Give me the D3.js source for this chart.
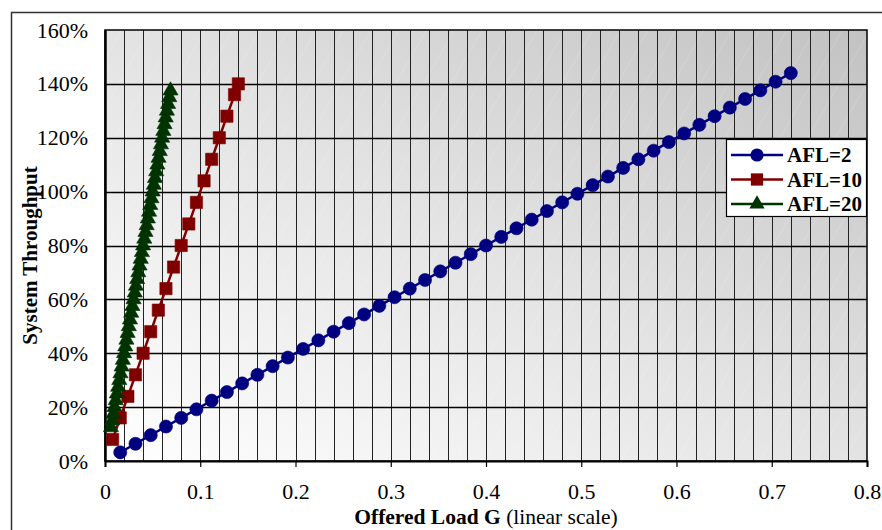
<!DOCTYPE html>
<html><head><meta charset="utf-8">
<script src="https://cdn.jsdelivr.net/npm/d3@7"></script>
<style>body{margin:0;background:#fff}svg{display:block}</style>
</head><body>
<svg id="c" width="882" height="530"></svg>
<script>
// ---- data ----
const seriesNames = ["AFL=2", "AFL=10", "AFL=20"];
const afl2G = [0.016,0.032,0.048,0.064,0.08,0.096,0.112,0.128,0.144,0.16,0.176,0.192,0.208,0.224,0.24,0.256,0.272,0.288,0.304,0.32,0.336,0.352,0.368,0.384,0.4,0.416,0.432,0.448,0.464,0.48,0.496,0.512,0.528,0.544,0.56,0.576,0.592,0.608,0.624,0.64,0.656,0.672,0.688,0.704,0.72];
const afl2T = [0.032,0.064,0.096,0.128,0.16,0.192,0.224,0.256,0.288,0.32,0.352,0.384,0.416,0.448,0.48,0.512,0.544,0.576,0.608,0.64,0.672,0.704,0.736,0.768,0.8,0.832,0.864,0.896,0.928,0.96,0.992,1.024,1.056,1.088,1.12,1.152,1.184,1.216,1.248,1.28,1.312,1.344,1.376,1.408,1.44];
const afl10G = [0.008,0.016,0.024,0.032,0.04,0.048,0.056,0.064,0.072,0.08,0.088,0.096,0.104,0.112,0.12,0.128,0.136,0.14];
const afl10T = [0.08,0.16,0.24,0.32,0.40,0.48,0.56,0.64,0.72,0.80,0.88,0.96,1.04,1.12,1.20,1.28,1.36,1.40];
const afl20G = [0.00625,0.0075,0.00875,0.01,0.01125,0.0125,0.01375,0.015,0.01625,0.0175,0.01875,0.02,0.02125,0.0225,0.02375,0.025,0.02625,0.0275,0.02875,0.03,0.03125,0.0325,0.03375,0.035,0.03625,0.0375,0.03875,0.04,0.04125,0.0425,0.04375,0.045,0.04625,0.0475,0.04875,0.05,0.05125,0.0525,0.05375,0.055,0.05625,0.0575,0.05875,0.06,0.06125,0.0625,0.06375,0.065,0.06625,0.0675,0.06875];
const afl20T = [0.125,0.15,0.175,0.2,0.225,0.25,0.275,0.3,0.325,0.35,0.375,0.4,0.425,0.45,0.475,0.5,0.525,0.55,0.575,0.6,0.625,0.65,0.675,0.7,0.725,0.75,0.775,0.8,0.825,0.85,0.875,0.9,0.925,0.95,0.975,1.0,1.025,1.05,1.075,1.1,1.125,1.15,1.175,1.2,1.225,1.25,1.275,1.3,1.325,1.35,1.375];
const xTicks = [0,0.1,0.2,0.3,0.4,0.5,0.6,0.7,0.8];
const yTicks = [0,0.2,0.4,0.6,0.8,1.0,1.2,1.4,1.6];
const xTitleBold = "Offered Load G";
const xTitleNormal = " (linear scale)";
const yTitle = "System Throughput";

// ---- layout ----
const svg = d3.select("#c");
const L = 105, T = 30, R = 867, B = 461;
const x = d3.scaleLinear().domain([0, 0.8]).range([L, R]);
const y = d3.scaleLinear().domain([0, 1.6]).range([B, T]);
const font = "'Liberation Serif','Times New Roman',serif";

// outer frame
svg.append("rect").attr("x", 11.5).attr("y", 12.5).attr("width", 900).attr("height", 600)
  .attr("fill", "#fff").attr("stroke", "#333").attr("stroke-width", 1.5);

// gradient background
const defs = svg.append("defs");
const g = defs.append("linearGradient").attr("id", "bg")
  .attr("x1", 0).attr("y1", 1).attr("x2", 1).attr("y2", 0);
g.append("stop").attr("offset", "0").attr("stop-color", "#ffffff");
g.append("stop").attr("offset", "0.5").attr("stop-color", "#e3e3e3");
g.append("stop").attr("offset", "1").attr("stop-color", "#c2c2c2");
const pat = defs.append("pattern").attr("id", "stripes").attr("patternUnits", "userSpaceOnUse")
  .attr("width", 24).attr("height", 24).attr("patternTransform", "rotate(30)");
pat.append("line").attr("x1", 0).attr("y1", 0).attr("x2", 0).attr("y2", 24)
  .attr("stroke", "#ffffff").attr("stroke-opacity", 0.18).attr("stroke-width", 1.5);

svg.append("rect").attr("x", L).attr("y", T).attr("width", R - L).attr("height", B - T).attr("fill", "url(#bg)");
svg.append("rect").attr("x", L).attr("y", T).attr("width", R - L).attr("height", B - T).attr("fill", "url(#stripes)");

// vertical grid every 0.02
const vGrid = d3.range(1, 40).map(i => i * 0.02);
svg.append("g").selectAll("line").data(vGrid).join("line")
  .attr("x1", d => Math.round(x(d)) + 0.5).attr("x2", d => Math.round(x(d)) + 0.5)
  .attr("y1", T).attr("y2", B).attr("stroke", "#222").attr("stroke-width", 1);
// horizontal grid
svg.append("g").selectAll("line").data(yTicks.slice(1, -1)).join("line")
  .attr("x1", L).attr("x2", R).attr("y1", d => Math.round(y(d)) + 0.5).attr("y2", d => Math.round(y(d)) + 0.5)
  .attr("stroke", "#000").attr("stroke-width", 1.3);

// plot border
svg.append("rect").attr("x", L).attr("y", T).attr("width", R - L).attr("height", B - T)
  .attr("fill", "none").attr("stroke", "#000").attr("stroke-width", 1.5);

// axes
const xAxis = svg.append("g").attr("transform", `translate(0,${B})`)
  .call(d3.axisBottom(x).tickValues(xTicks).tickFormat(d => d === 0 ? "0" : d3.format(".1f")(d)).tickSize(6).tickPadding(16));
xAxis.select(".domain").attr("stroke", "#000").attr("stroke-width", 2);
xAxis.selectAll(".tick line").attr("stroke", "#000").attr("stroke-width", 1.2);
xAxis.selectAll("text").attr("font-family", font).attr("font-size", 22).attr("fill", "#000");

const yAxis = svg.append("g").attr("transform", `translate(${L},0)`)
  .call(d3.axisLeft(y).tickValues(yTicks).tickFormat(d3.format(".0%")).tickSize(0).tickPadding(17));
yAxis.select(".domain").attr("stroke", "#000").attr("stroke-width", 2.5);
yAxis.selectAll("text").attr("font-family", font).attr("font-size", 22).attr("fill", "#000");

// axis titles
const xt = svg.append("text").attr("x", 486).attr("y", 524).attr("text-anchor", "middle")
  .attr("font-family", font).attr("font-size", 21.5).attr("fill", "#000");
xt.append("tspan").attr("font-weight", "bold").text(xTitleBold);
xt.append("tspan").text(xTitleNormal);
svg.append("text").attr("transform", `translate(37,${(T + B) / 2 + 10}) rotate(-90)`).attr("text-anchor", "middle")
  .attr("font-family", font).attr("font-size", 21).attr("font-weight", "bold").attr("fill", "#000").text(yTitle);

// series
const series = [
  { name: seriesNames[0], G: afl2G, Tp: afl2T, color: "#000080", sym: d3.symbolCircle, size: 135 },
  { name: seriesNames[1], G: afl10G, Tp: afl10T, color: "#800000", sym: d3.symbolSquare, size: 150 },
  { name: seriesNames[2], G: afl20G, Tp: afl20T, color: "#003300", sym: d3.symbolTriangle, size: 100 }
];
const line = d3.line().x(d => x(d[0])).y(d => y(d[1]));
series.forEach(s => {
  const pts = s.G.map((g, i) => [g, s.Tp[i]]);
  svg.append("path").datum(pts).attr("d", line).attr("fill", "none")
    .attr("stroke", s.color).attr("stroke-width", 2.5);
  svg.append("g").selectAll("path").data(pts).join("path")
    .attr("transform", d => `translate(${x(d[0])},${y(d[1])})`)
    .attr("d", d3.symbol().type(s.sym).size(s.size))
    .attr("fill", s.color).attr("stroke", s.color).attr("stroke-width", 0.6);
});

// legend
const lg = svg.append("g");
lg.append("rect").attr("x", 726.5).attr("y", 139.5).attr("width", 140).attr("height", 77)
  .attr("fill", "#fff").attr("stroke", "#000").attr("stroke-width", 1.2);
series.forEach((s, i) => {
  const yy = 155 + i * 24.5;
  lg.append("line").attr("x1", 731).attr("x2", 783).attr("y1", yy).attr("y2", yy)
    .attr("stroke", s.color).attr("stroke-width", 2.5);
  lg.append("path").attr("transform", `translate(757,${yy})`)
    .attr("d", d3.symbol().type(s.sym).size(s.size)).attr("fill", s.color);
  lg.append("text").attr("x", 787).attr("y", yy + 7).attr("font-family", font)
    .attr("font-size", 21).attr("font-weight", "bold").attr("fill", "#000").text(s.name);
});
</script>
</body></html>
